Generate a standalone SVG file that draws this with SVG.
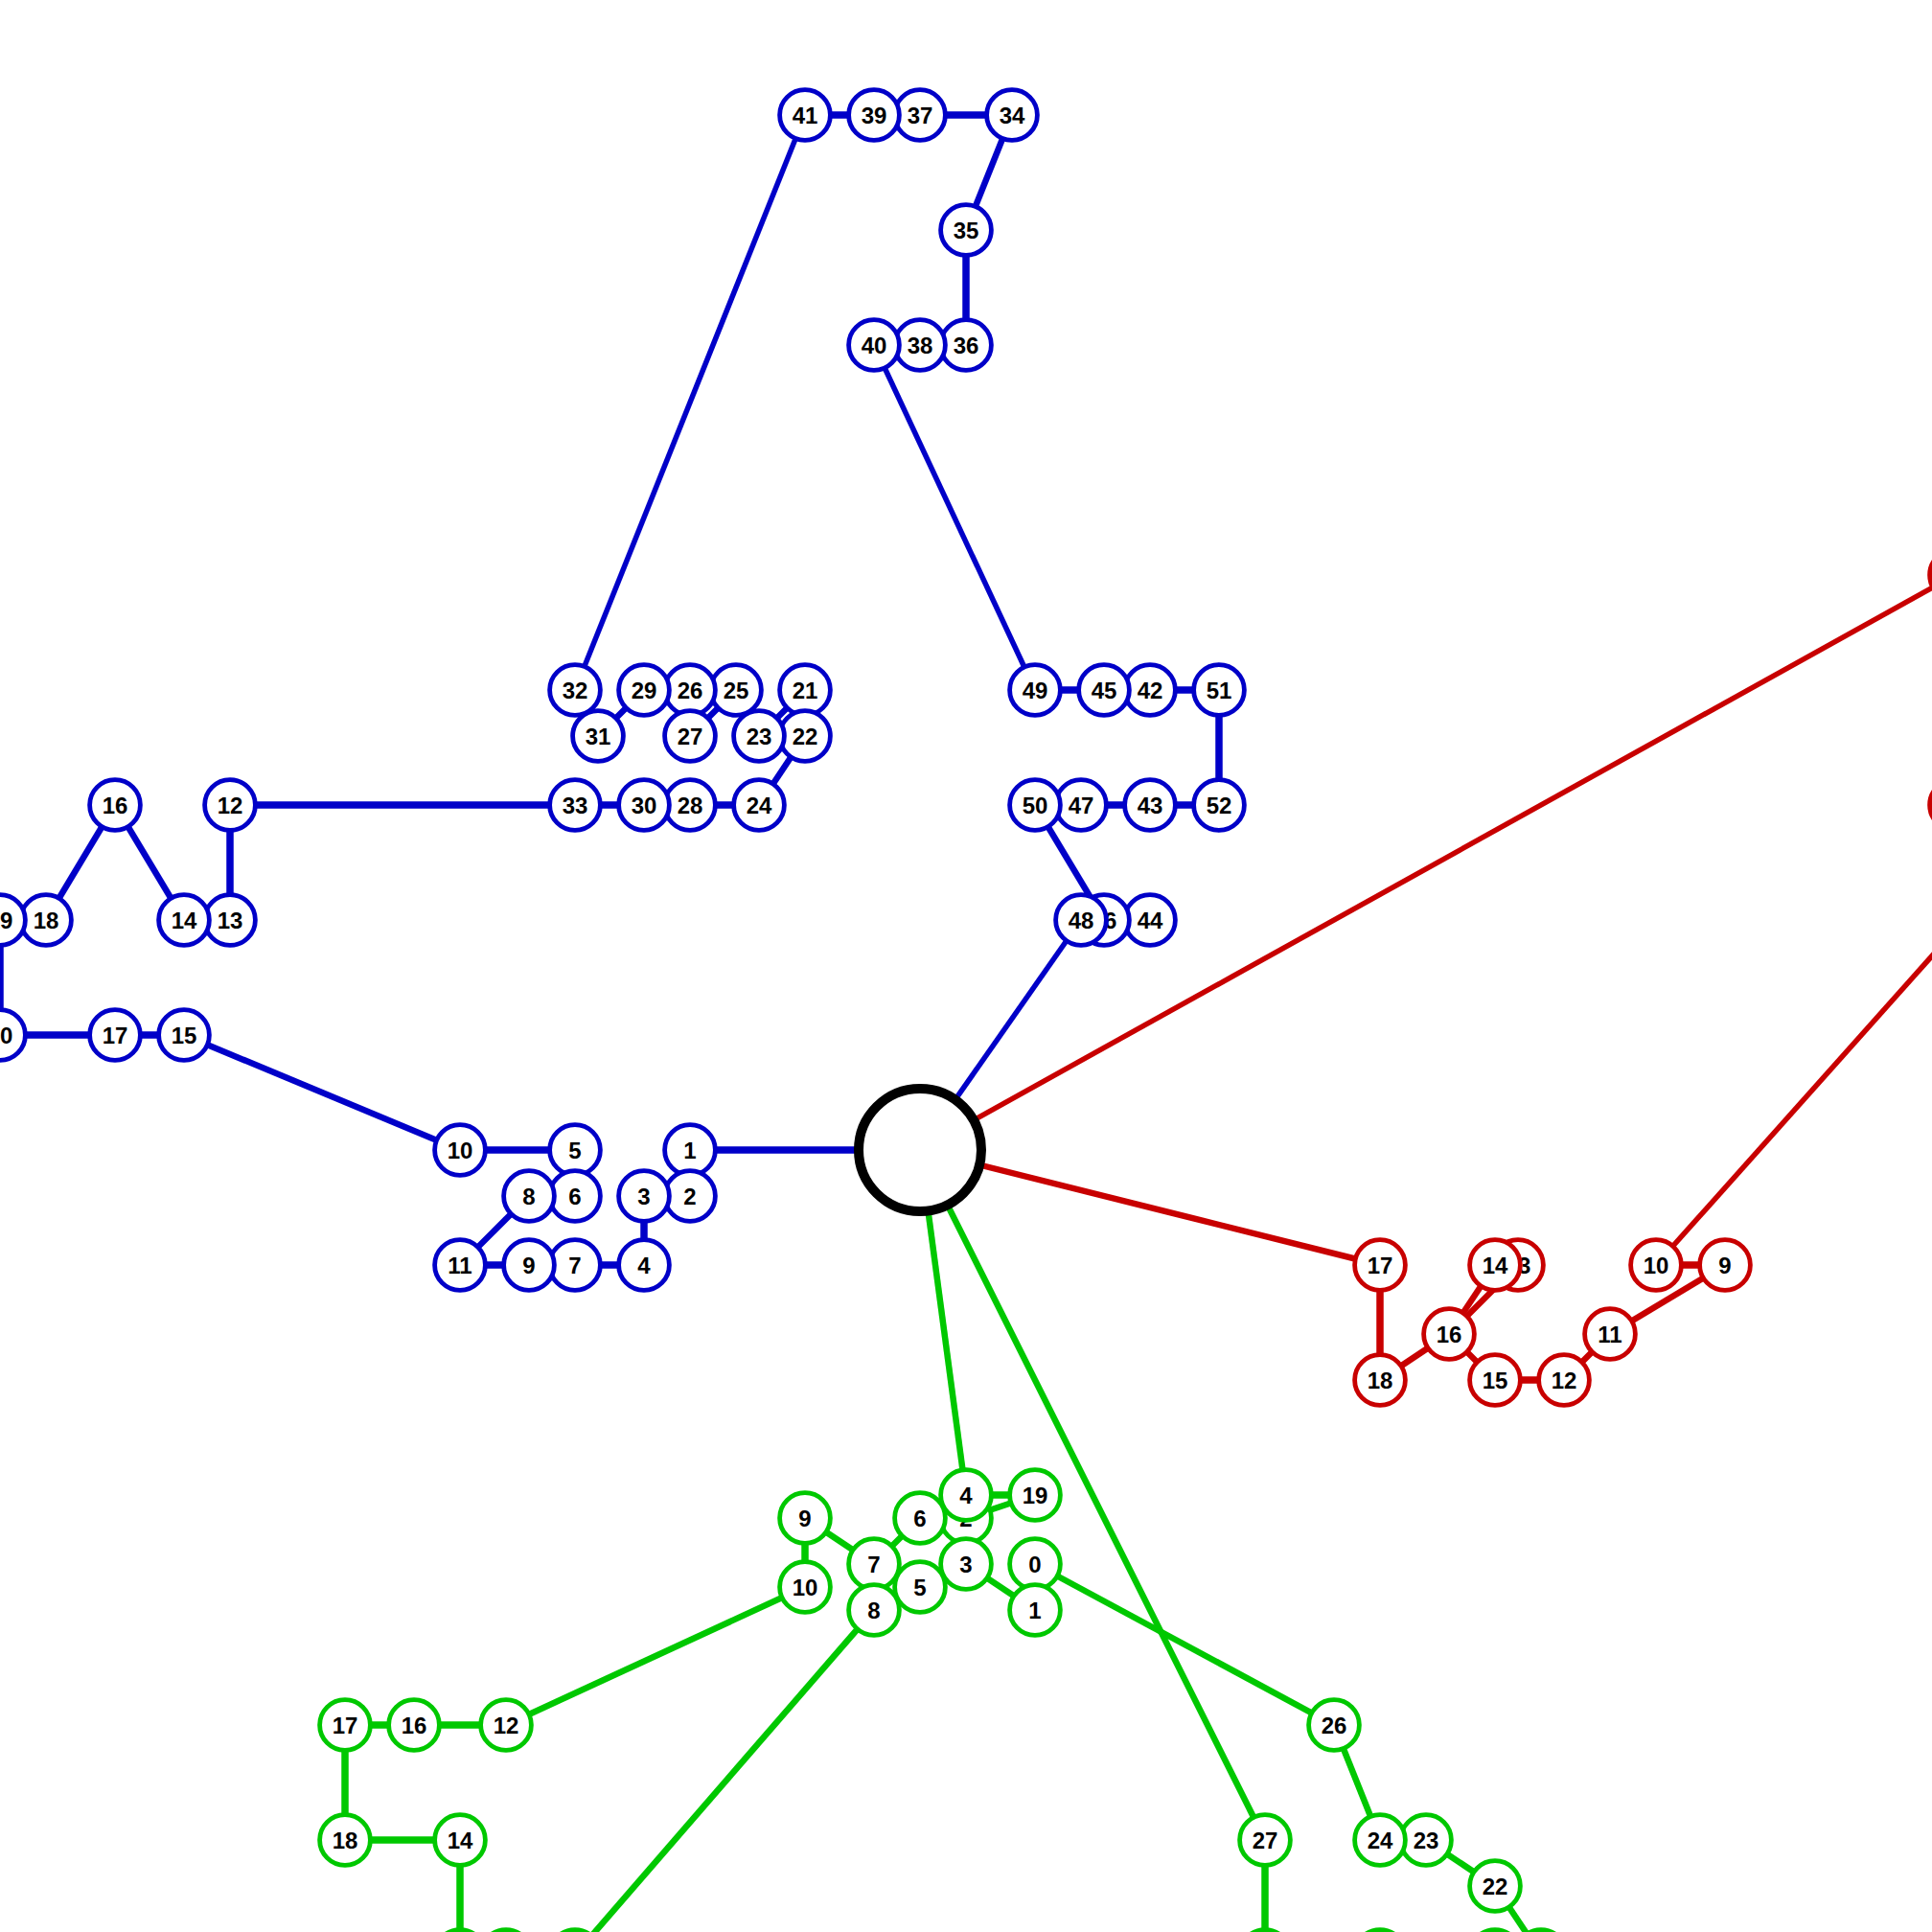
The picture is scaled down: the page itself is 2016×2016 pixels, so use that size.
<svg xmlns="http://www.w3.org/2000/svg" width="2016" height="2016" viewBox="0 0 2016 2016">
<style>
.bg{fill:#fff}
.n circle{fill:#fff;stroke-width:4.8}
.b circle{stroke:#0000c8}
.r circle{stroke:#c80000}
.g circle{stroke:#00c800}
.n text{font-family:"Liberation Sans",Arial,sans-serif;font-weight:bold;font-size:24px;text-anchor:middle;fill:#000}
#center circle{fill:#fff;stroke:#000;stroke-width:10}
.eb{stroke:#0000c8}
.er{stroke:#c80000}
.eg{stroke:#00c800}
line{stroke-width:6.5;stroke-linecap:butt}
line.k{stroke-width:7.5}
line.t{stroke-width:5.5}
</style>
<rect class="bg" x="0" y="0" width="2016" height="2016"/>
<g id="connectors">
<line class="eb k" x1="960" y1="1200" x2="720" y2="1200"/>
<line class="eb t" x1="960" y1="1200" x2="1128" y2="960"/>
<line class="eb k" x1="672" y1="1248" x2="672" y2="1320"/>
<line class="eb k" x1="672" y1="1320" x2="600" y2="1320"/>
<line class="eb k" x1="552" y1="1320" x2="480" y2="1320"/>
<line class="eb" x1="480" y1="1320" x2="552" y2="1248"/>
<line class="eb k" x1="600" y1="1200" x2="480" y2="1200"/>
<line class="eb" x1="480" y1="1200" x2="192" y2="1080"/>
<line class="eb k" x1="192" y1="1080" x2="120" y2="1080"/>
<line class="eb k" x1="120" y1="1080" x2="0" y2="1080"/>
<line class="eb k" x1="0" y1="1080" x2="0" y2="960"/>
<line class="eb" x1="48" y1="960" x2="120" y2="840"/>
<line class="eb" x1="120" y1="840" x2="192" y2="960"/>
<line class="eb k" x1="240" y1="960" x2="240" y2="840"/>
<line class="eb k" x1="240" y1="840" x2="600" y2="840"/>
<line class="eb k" x1="600" y1="840" x2="672" y2="840"/>
<line class="eb k" x1="720" y1="840" x2="792" y2="840"/>
<line class="eb" x1="792" y1="840" x2="840" y2="768"/>
<line class="eb" x1="840" y1="720" x2="792" y2="768"/>
<line class="eb" x1="768" y1="720" x2="720" y2="768"/>
<line class="eb" x1="672" y1="720" x2="624" y2="768"/>
<line class="eb t" x1="600" y1="720" x2="840" y2="120"/>
<line class="eb k" x1="840" y1="120" x2="912" y2="120"/>
<line class="eb k" x1="960" y1="120" x2="1056" y2="120"/>
<line class="eb" x1="1056" y1="120" x2="1008" y2="240"/>
<line class="eb k" x1="1008" y1="240" x2="1008" y2="360"/>
<line class="eb t" x1="912" y1="360" x2="1080" y2="720"/>
<line class="eb k" x1="1080" y1="720" x2="1152" y2="720"/>
<line class="eb k" x1="1200" y1="720" x2="1272" y2="720"/>
<line class="eb k" x1="1272" y1="720" x2="1272" y2="840"/>
<line class="eb k" x1="1272" y1="840" x2="1200" y2="840"/>
<line class="eb k" x1="1200" y1="840" x2="1128" y2="840"/>
<line class="eb" x1="1080" y1="840" x2="1152" y2="960"/>
<line class="er t" x1="960" y1="1200" x2="2040" y2="600"/>
<line class="er" x1="960" y1="1200" x2="1440" y2="1320"/>
<line class="er k" x1="1440" y1="1320" x2="1440" y2="1440"/>
<line class="er" x1="1440" y1="1440" x2="1512" y2="1392"/>
<line class="er" x1="1512" y1="1392" x2="1560" y2="1320"/>
<line class="er" x1="1512" y1="1392" x2="1584" y2="1320"/>
<line class="er" x1="1512" y1="1392" x2="1560" y2="1440"/>
<line class="er k" x1="1560" y1="1440" x2="1632" y2="1440"/>
<line class="er" x1="1632" y1="1440" x2="1680" y2="1392"/>
<line class="er" x1="1680" y1="1392" x2="1800" y2="1320"/>
<line class="er k" x1="1800" y1="1320" x2="1728" y2="1320"/>
<line class="er t" x1="1728" y1="1320" x2="2112" y2="890"/>
<line class="eg" x1="960" y1="1200" x2="1008" y2="1560"/>
<line class="eg" x1="960" y1="1200" x2="1320" y2="1920"/>
<line class="eg k" x1="1008" y1="1560" x2="1080" y2="1560"/>
<line class="eg" x1="1080" y1="1560" x2="1008" y2="1584"/>
<line class="eg" x1="960" y1="1584" x2="912" y2="1632"/>
<line class="eg" x1="912" y1="1632" x2="840" y2="1584"/>
<line class="eg k" x1="840" y1="1584" x2="840" y2="1656"/>
<line class="eg" x1="840" y1="1656" x2="528" y2="1800"/>
<line class="eg k" x1="528" y1="1800" x2="432" y2="1800"/>
<line class="eg k" x1="432" y1="1800" x2="360" y2="1800"/>
<line class="eg k" x1="360" y1="1800" x2="360" y2="1920"/>
<line class="eg k" x1="360" y1="1920" x2="480" y2="1920"/>
<line class="eg k" x1="480" y1="1920" x2="480" y2="2040"/>
<line class="eg" x1="912" y1="1680" x2="600" y2="2040"/>
<line class="eg" x1="1008" y1="1632" x2="1080" y2="1680"/>
<line class="eg" x1="1080" y1="1632" x2="1392" y2="1800"/>
<line class="eg" x1="1392" y1="1800" x2="1440" y2="1920"/>
<line class="eg" x1="1488" y1="1920" x2="1560" y2="1968"/>
<line class="eg" x1="1560" y1="1968" x2="1608" y2="2040"/>
<line class="eg k" x1="1320" y1="1920" x2="1320" y2="2040"/>
</g>
<g id="center"><circle cx="960" cy="1200" r="64"/></g>
<g id="b1" class="n b"><circle cx="720" cy="1200" r="26.4"/><text x="720" y="1208.6">1</text></g>
<g id="b2" class="n b"><circle cx="720" cy="1248" r="26.4"/><text x="720" y="1256.6">2</text></g>
<g id="b3" class="n b"><circle cx="672" cy="1248" r="26.4"/><text x="672" y="1256.6">3</text></g>
<g id="b4" class="n b"><circle cx="672" cy="1320" r="26.4"/><text x="672" y="1328.6">4</text></g>
<g id="b5" class="n b"><circle cx="600" cy="1200" r="26.4"/><text x="600" y="1208.6">5</text></g>
<g id="b6" class="n b"><circle cx="600" cy="1248" r="26.4"/><text x="600" y="1256.6">6</text></g>
<g id="b7" class="n b"><circle cx="600" cy="1320" r="26.4"/><text x="600" y="1328.6">7</text></g>
<g id="b8" class="n b"><circle cx="552" cy="1248" r="26.4"/><text x="552" y="1256.6">8</text></g>
<g id="b9" class="n b"><circle cx="552" cy="1320" r="26.4"/><text x="552" y="1328.6">9</text></g>
<g id="b10" class="n b"><circle cx="480" cy="1200" r="26.4"/><text x="480" y="1208.6">10</text></g>
<g id="b11" class="n b"><circle cx="480" cy="1320" r="26.4"/><text x="480" y="1328.6">11</text></g>
<g id="b12" class="n b"><circle cx="240" cy="840" r="26.4"/><text x="240" y="848.6">12</text></g>
<g id="b13" class="n b"><circle cx="240" cy="960" r="26.4"/><text x="240" y="968.6">13</text></g>
<g id="b14" class="n b"><circle cx="192" cy="960" r="26.4"/><text x="192" y="968.6">14</text></g>
<g id="b15" class="n b"><circle cx="192" cy="1080" r="26.4"/><text x="192" y="1088.6">15</text></g>
<g id="b16" class="n b"><circle cx="120" cy="840" r="26.4"/><text x="120" y="848.6">16</text></g>
<g id="b17" class="n b"><circle cx="120" cy="1080" r="26.4"/><text x="120" y="1088.6">17</text></g>
<g id="b18" class="n b"><circle cx="48" cy="960" r="26.4"/><text x="48" y="968.6">18</text></g>
<g id="b19" class="n b"><circle cx="0" cy="960" r="26.4"/><text x="0" y="968.6">19</text></g>
<g id="b20" class="n b"><circle cx="0" cy="1080" r="26.4"/><text x="0" y="1088.6">20</text></g>
<g id="b21" class="n b"><circle cx="840" cy="720" r="26.4"/><text x="840" y="728.6">21</text></g>
<g id="b22" class="n b"><circle cx="840" cy="768" r="26.4"/><text x="840" y="776.6">22</text></g>
<g id="b23" class="n b"><circle cx="792" cy="768" r="26.4"/><text x="792" y="776.6">23</text></g>
<g id="b24" class="n b"><circle cx="792" cy="840" r="26.4"/><text x="792" y="848.6">24</text></g>
<g id="b25" class="n b"><circle cx="768" cy="720" r="26.4"/><text x="768" y="728.6">25</text></g>
<g id="b26" class="n b"><circle cx="720" cy="720" r="26.4"/><text x="720" y="728.6">26</text></g>
<g id="b27" class="n b"><circle cx="720" cy="768" r="26.4"/><text x="720" y="776.6">27</text></g>
<g id="b28" class="n b"><circle cx="720" cy="840" r="26.4"/><text x="720" y="848.6">28</text></g>
<g id="b29" class="n b"><circle cx="672" cy="720" r="26.4"/><text x="672" y="728.6">29</text></g>
<g id="b30" class="n b"><circle cx="672" cy="840" r="26.4"/><text x="672" y="848.6">30</text></g>
<g id="b31" class="n b"><circle cx="624" cy="768" r="26.4"/><text x="624" y="776.6">31</text></g>
<g id="b32" class="n b"><circle cx="600" cy="720" r="26.4"/><text x="600" y="728.6">32</text></g>
<g id="b33" class="n b"><circle cx="600" cy="840" r="26.4"/><text x="600" y="848.6">33</text></g>
<g id="b34" class="n b"><circle cx="1056" cy="120" r="26.4"/><text x="1056" y="128.6">34</text></g>
<g id="b35" class="n b"><circle cx="1008" cy="240" r="26.4"/><text x="1008" y="248.6">35</text></g>
<g id="b36" class="n b"><circle cx="1008" cy="360" r="26.4"/><text x="1008" y="368.6">36</text></g>
<g id="b37" class="n b"><circle cx="960" cy="120" r="26.4"/><text x="960" y="128.6">37</text></g>
<g id="b38" class="n b"><circle cx="960" cy="360" r="26.4"/><text x="960" y="368.6">38</text></g>
<g id="b39" class="n b"><circle cx="912" cy="120" r="26.4"/><text x="912" y="128.6">39</text></g>
<g id="b40" class="n b"><circle cx="912" cy="360" r="26.4"/><text x="912" y="368.6">40</text></g>
<g id="b41" class="n b"><circle cx="840" cy="120" r="26.4"/><text x="840" y="128.6">41</text></g>
<g id="b42" class="n b"><circle cx="1200" cy="720" r="26.4"/><text x="1200" y="728.6">42</text></g>
<g id="b43" class="n b"><circle cx="1200" cy="840" r="26.4"/><text x="1200" y="848.6">43</text></g>
<g id="b44" class="n b"><circle cx="1200" cy="960" r="26.4"/><text x="1200" y="968.6">44</text></g>
<g id="b45" class="n b"><circle cx="1152" cy="720" r="26.4"/><text x="1152" y="728.6">45</text></g>
<g id="b46" class="n b"><circle cx="1152" cy="960" r="26.4"/><text x="1152" y="968.6">46</text></g>
<g id="b47" class="n b"><circle cx="1128" cy="840" r="26.4"/><text x="1128" y="848.6">47</text></g>
<g id="b48" class="n b"><circle cx="1128" cy="960" r="26.4"/><text x="1128" y="968.6">48</text></g>
<g id="b49" class="n b"><circle cx="1080" cy="720" r="26.4"/><text x="1080" y="728.6">49</text></g>
<g id="b50" class="n b"><circle cx="1080" cy="840" r="26.4"/><text x="1080" y="848.6">50</text></g>
<g id="b51" class="n b"><circle cx="1272" cy="720" r="26.4"/><text x="1272" y="728.6">51</text></g>
<g id="b52" class="n b"><circle cx="1272" cy="840" r="26.4"/><text x="1272" y="848.6">52</text></g>
<g id="r9" class="n r"><circle cx="1800" cy="1320" r="26.4"/><text x="1800" y="1328.6">9</text></g>
<g id="r10" class="n r"><circle cx="1728" cy="1320" r="26.4"/><text x="1728" y="1328.6">10</text></g>
<g id="r11" class="n r"><circle cx="1680" cy="1392" r="26.4"/><text x="1680" y="1400.6">11</text></g>
<g id="r12" class="n r"><circle cx="1632" cy="1440" r="26.4"/><text x="1632" y="1448.6">12</text></g>
<g id="r13" class="n r"><circle cx="1584" cy="1320" r="26.4"/><text x="1584" y="1328.6">13</text></g>
<g id="r14" class="n r"><circle cx="1560" cy="1320" r="26.4"/><text x="1560" y="1328.6">14</text></g>
<g id="r15" class="n r"><circle cx="1560" cy="1440" r="26.4"/><text x="1560" y="1448.6">15</text></g>
<g id="r16" class="n r"><circle cx="1512" cy="1392" r="26.4"/><text x="1512" y="1400.6">16</text></g>
<g id="r17" class="n r"><circle cx="1440" cy="1320" r="26.4"/><text x="1440" y="1328.6">17</text></g>
<g id="r18" class="n r"><circle cx="1440" cy="1440" r="26.4"/><text x="1440" y="1448.6">18</text></g>
<g id="rA" class="n r"><circle cx="2040" cy="600" r="26.4"/></g>
<g id="rB" class="n r"><circle cx="2040" cy="840" r="26.4"/></g>
<g id="g0" class="n g"><circle cx="1080" cy="1632" r="26.4"/><text x="1080" y="1640.6">0</text></g>
<g id="g1" class="n g"><circle cx="1080" cy="1680" r="26.4"/><text x="1080" y="1688.6">1</text></g>
<g id="g2" class="n g"><circle cx="1008" cy="1584" r="26.4"/><text x="1008" y="1592.6">2</text></g>
<g id="g3" class="n g"><circle cx="1008" cy="1632" r="26.4"/><text x="1008" y="1640.6">3</text></g>
<g id="g4" class="n g"><circle cx="1008" cy="1560" r="26.4"/><text x="1008" y="1568.6">4</text></g>
<g id="g5" class="n g"><circle cx="960" cy="1656" r="26.4"/><text x="960" y="1664.6">5</text></g>
<g id="g6" class="n g"><circle cx="960" cy="1584" r="26.4"/><text x="960" y="1592.6">6</text></g>
<g id="g7" class="n g"><circle cx="912" cy="1632" r="26.4"/><text x="912" y="1640.6">7</text></g>
<g id="g8" class="n g"><circle cx="912" cy="1680" r="26.4"/><text x="912" y="1688.6">8</text></g>
<g id="g9" class="n g"><circle cx="840" cy="1584" r="26.4"/><text x="840" y="1592.6">9</text></g>
<g id="g10" class="n g"><circle cx="840" cy="1656" r="26.4"/><text x="840" y="1664.6">10</text></g>
<g id="g12" class="n g"><circle cx="528" cy="1800" r="26.4"/><text x="528" y="1808.6">12</text></g>
<g id="g14" class="n g"><circle cx="480" cy="1920" r="26.4"/><text x="480" y="1928.6">14</text></g>
<g id="g16" class="n g"><circle cx="432" cy="1800" r="26.4"/><text x="432" y="1808.6">16</text></g>
<g id="g17" class="n g"><circle cx="360" cy="1800" r="26.4"/><text x="360" y="1808.6">17</text></g>
<g id="g18" class="n g"><circle cx="360" cy="1920" r="26.4"/><text x="360" y="1928.6">18</text></g>
<g id="g19" class="n g"><circle cx="1080" cy="1560" r="26.4"/><text x="1080" y="1568.6">19</text></g>
<g id="g22" class="n g"><circle cx="1560" cy="1968" r="26.4"/><text x="1560" y="1976.6">22</text></g>
<g id="g23" class="n g"><circle cx="1488" cy="1920" r="26.4"/><text x="1488" y="1928.6">23</text></g>
<g id="g24" class="n g"><circle cx="1440" cy="1920" r="26.4"/><text x="1440" y="1928.6">24</text></g>
<g id="g26" class="n g"><circle cx="1392" cy="1800" r="26.4"/><text x="1392" y="1808.6">26</text></g>
<g id="g27" class="n g"><circle cx="1320" cy="1920" r="26.4"/><text x="1320" y="1928.6">27</text></g>
<g id="gA" class="n g"><circle cx="480" cy="2040" r="26.4"/></g>
<g id="gB" class="n g"><circle cx="528" cy="2040" r="26.4"/></g>
<g id="gC" class="n g"><circle cx="600" cy="2040" r="26.4"/></g>
<g id="gD" class="n g"><circle cx="1320" cy="2040" r="26.4"/></g>
<g id="gE" class="n g"><circle cx="1440" cy="2040" r="26.4"/></g>
<g id="gF" class="n g"><circle cx="1560" cy="2040" r="26.4"/></g>
<g id="gG" class="n g"><circle cx="1608" cy="2040" r="26.4"/></g>
</svg>
